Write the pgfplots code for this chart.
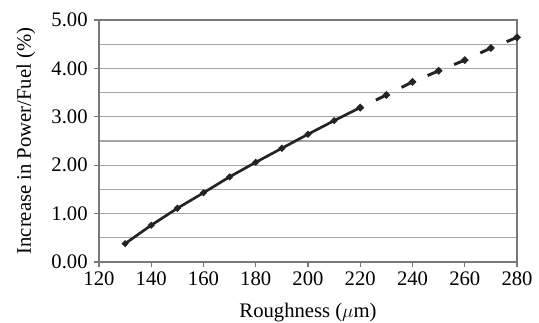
\documentclass[border=0pt]{standalone}
\usepackage{pgfplots}
\pgfplotsset{compat=1.18}
\usepackage{fontspec}
\setmainfont{Liberation Serif}
\definecolor{gridc}{RGB}{165,165,165}
\definecolor{axc}{RGB}{120,120,120}
\definecolor{linec}{RGB}{35,35,35}
\begin{document}
\begin{tikzpicture}
\path[use as bounding box] (-74.25pt,-45pt) rectangle (330pt,196.5pt);
\begin{axis}[
  at={(0,0)}, anchor=south west,
  scale only axis,
  width=313.5pt, height=181.5pt,
  xmin=120, xmax=280, ymin=0, ymax=5,
  xtick={120,140,...,280},
  ytick={0,1,2,3,4,5},
  minor ytick={0.5,1.5,2.5,3.5,4.5},
  ymajorgrids, yminorgrids,
  major grid style={gridc, line width=0.9pt},
  minor grid style={gridc, line width=0.9pt},
  axis line style={axc, line width=0.9pt},
  tick style={axc, line width=0.9pt},
  tick align=outside,
  major tick length=4pt,
  minor tick length=0pt,
  ytick pos=left, xtick pos=bottom,
  font=\fontsize{15.5}{18}\selectfont,
  /pgf/number format/assume math mode=true,
  yticklabel style={/pgf/number format/fixed, /pgf/number format/fixed zerofill, /pgf/number format/precision=2, xshift=-1pt},
  xticklabel style={yshift=0pt},
  xlabel={Roughness ($\mu$m)},
  ylabel={Increase in Power/Fuel (\%)},
  xlabel style={at={(axis description cs:0.5,-0.2107)}, anchor=center},
  ylabel style={at={(axis description cs:-0.1746,0.5)}, anchor=center},
]
\addplot[linec, line width=2pt, mark=*, mark size=1.35pt] coordinates {
 (130,0.38) (140,0.76) (150,1.11) (160,1.43) (170,1.76) (180,2.06)
 (190,2.35) (200,2.64) (210,2.92) (220,3.19)
};
\addplot[linec, line width=2.2pt, dash pattern=on 10.5pt off 11pt, dash phase=8.5pt, mark=*, mark size=1.45pt, mark options={solid}] coordinates {
 (220,3.19) (230,3.45) (240,3.72) (250,3.95) (260,4.17) (270,4.42) (280,4.64)
};
\end{axis}
\end{tikzpicture}
\end{document}
